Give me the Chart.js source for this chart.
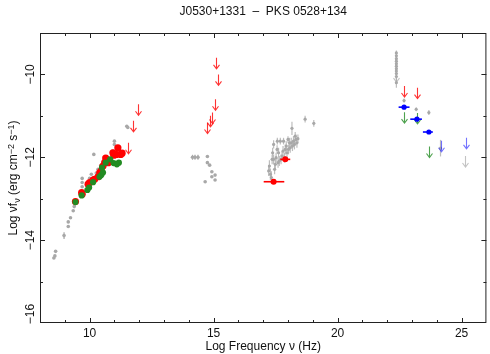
<!DOCTYPE html>
<html>
<head>
<meta charset="utf-8">
<script src="https://cdn.jsdelivr.net/npm/chart.js@4.4.0/dist/chart.umd.min.js"></script>
<style>
  html, body { margin: 0; padding: 0; background: #fff; }
  #wrap { width: 490px; height: 354px; }
</style>
</head>
<body>
<div id="wrap"><canvas id="sed"></canvas></div>
<script>
// tick labels
const xTicks = [10, 15, 20, 25];
const yTicks = [-16, -14, -12, -10];

// radio: red detections and green detections
const redX = [9.43, 9.68, 9.70, 9.94, 10.00, 10.14, 10.20, 10.34, 10.41, 10.47, 10.54, 10.61, 10.65, 10.75, 10.94, 10.98, 11.07, 11.14, 11.31, 11.25];
const redY = [-13.07, -12.85, -12.89, -12.65, -12.61, -12.55, -12.53, -12.47, -12.37, -12.33, -12.21, -12.13, -12.02, -12.13, -11.89, -11.95, -11.93, -11.77, -11.90, -11.93];
const greenX = [9.43, 9.68, 9.91, 9.98, 10.14, 10.40, 10.47, 10.54, 10.50, 10.65, 10.83, 10.97, 11.18, 11.10];
const greenY = [-13.08, -12.92, -12.79, -12.73, -12.60, -12.47, -12.43, -12.37, -12.25, -12.13, -12.05, -12.14, -12.13, -12.17];

// archival grey points, radio
const greyRadioX = [8.56, 8.60, 8.63, 8.97, 9.14, 9.14, 9.23, 9.34, 9.38, 9.70, 9.70, 9.70, 10.00, 10.07, 10.17, 10.34, 10.27, 10.45, 10.55, 10.60, 10.94, 11.00, 11.00, 11.24, 11.54, 11.50];
const greyRadioY = [-14.43, -14.38, -14.27, -13.89, -13.67, -13.56, -13.46, -13.29, -13.19, -12.51, -12.61, -12.71, -12.51, -12.41, -11.93, -12.29, -12.38, -12.20, -12.10, -12.05, -11.85, -11.61, -11.69, -11.87, -11.28, -11.25];
const greyRadioErr = [0, 0, 0, 0.08, 0, 0, 0, 0, 0, 0, 0, 0, 0, 0, 0, 0, 0, 0, 0, 0, 0, 0, 0, 0, 0, 0];

// grey points, optical / UV
const greyOptX = [14.15, 14.25, 14.37, 14.75, 14.75, 14.84, 14.93, 15.06, 14.93, 15.06, 14.66];
const greyOptY = [-12.0, -12.0, -12.0, -11.98, -12.13, -12.19, -12.35, -12.43, -12.47, -12.55, -12.59];
const greyOptErr = [0.06, 0.06, 0.06, 0, 0, 0, 0, 0, 0, 0, 0];

// grey points, X-ray
const greyXrayX = [17.22, 17.25, 17.29, 17.33, 17.36, 17.38, 17.42, 17.42, 17.46, 17.49, 17.52, 17.56, 17.57, 17.60, 17.62, 17.65, 17.69, 17.72, 17.76, 17.80, 17.82, 17.86, 17.89, 17.93, 17.96, 18.00, 18.02, 18.06, 18.09, 18.13, 18.16, 18.18, 18.22, 18.26, 18.29, 18.32, 18.36, 18.40, 18.69, 19.04];
const greyXrayY = [-12.33, -12.21, -12.41, -12.49, -12.05, -11.89, -11.69, -12.05, -12.29, -12.17, -12.01, -11.81, -11.61, -12.13, -11.89, -12.09, -11.61, -12.05, -11.97, -11.85, -11.61, -12.01, -11.81, -11.73, -11.89, -11.57, -11.81, -11.65, -11.77, -11.65, -11.30, -11.73, -11.61, -11.69, -11.49, -11.57, -11.65, -11.55, -11.08, -11.18];
const greyXrayErr = [0.12, 0.14, 0.14, 0.15, 0.12, 0.12, 0.1, 0.12, 0.12, 0.12, 0.12, 0.1, 0.08, 0.12, 0.12, 0.12, 0.08, 0.12, 0.12, 0.12, 0.08, 0.12, 0.12, 0.12, 0.12, 0.08, 0.12, 0.12, 0.12, 0.12, 0.16, 0.12, 0.12, 0.12, 0.1, 0.12, 0.12, 0.1, 0.08, 0.08];

// X-ray red detections with energy band
const redXrayX = [17.42, 17.89];
const redXrayY = [-12.59, -12.05];
const redXrayLo = [17.02, 17.69];
const redXrayHi = [17.85, 18.09];

// grey points, gamma-ray
const greyGamX = [22.37, 22.37, 22.37, 22.37, 22.37, 22.37, 22.37, 22.37, 22.37, 22.37, 22.37, 22.68, 23.17, 23.68, 24.15];
const greyGamY = [-9.48, -9.55, -9.62, -9.68, -9.74, -9.80, -9.86, -9.92, -9.98, -10.05, -10.20, -10.63, -10.84, -10.92, -11.78];
const greyGamErr = [0.06, 0.06, 0.06, 0.06, 0.06, 0.06, 0.06, 0.06, 0.06, 0.06, 0.12, 0.05, 0.05, 0.06, 0.2];

// gamma-ray blue detections with energy band
const blueX = [22.68, 23.20, 23.68];
const blueY = [-10.79, -11.08, -11.39];
const blueLo = [22.46, 22.93, 23.44];
const blueHi = [22.90, 23.40, 23.84];

// upper limits
const redUlX = [11.94, 11.74, 11.54, 15.11, 15.16, 15.06, 14.92, 14.86, 14.75, 22.68, 23.20];
const redUlY = [-10.72, -11.12, -11.65, -9.60, -10.00, -10.60, -10.92, -11.00, -11.16, -10.28, -10.32];
const greenUlX = [22.68, 23.20, 23.68];
const greenUlY = [-10.91, -10.93, -11.74];
const blueUlX = [24.17, 25.19];
const blueUlY = [-11.60, -11.53];
const greyUlX = [22.37, 25.15];
const greyUlY = [-9.92, -11.97];

const pts = (xs, ys) => xs.map((x, i) => ({ x: x, y: ys[i] }));
const FONT = "'Liberation Sans', Arial, Helvetica, sans-serif";

// error bars under the markers, arrows for the upper limits
const marks = {
  id: "marks",
  beforeDatasetDraw(chart, args) {
    const ds = chart.data.datasets[args.index];
    const xs = chart.scales.x, ys = chart.scales.y;
    const ctx = chart.ctx;
    ctx.save();
    ctx.strokeStyle = ds.barColor || ds.backgroundColor;
    ctx.lineWidth = 1.2;
    ds.data.forEach((p, i) => {
      const px = xs.getPixelForValue(p.x);
      if (ds.yErr && ds.yErr[i]) {
        ctx.beginPath();
        ctx.moveTo(px, ys.getPixelForValue(p.y - ds.yErr[i]));
        ctx.lineTo(px, ys.getPixelForValue(p.y + ds.yErr[i]));
        ctx.stroke();
      }
      if (ds.xLo) {
        const py = ys.getPixelForValue(p.y);
        ctx.lineWidth = 1.6;
        ctx.beginPath();
        ctx.moveTo(xs.getPixelForValue(ds.xLo[i]), py);
        ctx.lineTo(xs.getPixelForValue(ds.xHi[i]), py);
        ctx.stroke();
      }
    });
    ctx.restore();
  },
  afterDatasetDraw(chart, args) {
    const ds = chart.data.datasets[args.index];
    if (!ds.arrow) return;
    const ctx = chart.ctx;
    ctx.save();
    ctx.strokeStyle = ds.arrow;
    ctx.lineWidth = 1.1;
    args.meta.data.forEach(el => {
      const x = Math.round(el.x) + 0.5, y = el.y, L = 11;
      ctx.beginPath();
      ctx.moveTo(x, y);
      ctx.lineTo(x, y + L);
      ctx.moveTo(x - 3, y + L - 4);
      ctx.lineTo(x, y + L);
      ctx.lineTo(x + 3, y + L - 4);
      ctx.stroke();
    });
    ctx.restore();
  }
};

// frame, inward ticks, rotated y labels and titles
const frame = {
  id: "frame",
  afterDraw(chart) {
    const { ctx, chartArea: a } = chart;
    const xs = chart.scales.x, ys = chart.scales.y;
    ctx.save();
    ctx.strokeStyle = "#222";
    ctx.lineWidth = 1;
    ctx.strokeRect(a.left + 0.5, a.top + 0.5, a.right - a.left - 1, a.bottom - a.top - 1);
    ctx.beginPath();
    for (let v = 9; v <= 25; v++) {
      const px = Math.round(xs.getPixelForValue(v)) + 0.5;
      const len = v % 5 === 0 ? 5 : 3;
      ctx.moveTo(px, a.bottom); ctx.lineTo(px, a.bottom - len);
      ctx.moveTo(px, a.top); ctx.lineTo(px, a.top + len);
    }
    for (let v = -15; v <= -10; v++) {
      const py = Math.round(ys.getPixelForValue(v)) + 0.5;
      const len = v % 2 === 0 ? 5 : 3;
      ctx.moveTo(a.left, py); ctx.lineTo(a.left + len, py);
      ctx.moveTo(a.right, py); ctx.lineTo(a.right - len, py);
    }
    ctx.stroke();

    ctx.fillStyle = "#111";
    ctx.font = "12px " + FONT;
    ctx.textAlign = "center";
    ctx.textBaseline = "middle";
    yTicks.forEach(v => {
      const py = ys.getPixelForValue(v);
      ctx.save();
      ctx.translate(31, Math.min(py, a.bottom - 9));
      ctx.rotate(-Math.PI / 2);
      ctx.fillText("\u2212" + Math.abs(v), 0, 0);
      ctx.restore();
    });

    const cx = (a.left + a.right) / 2;
    ctx.fillText("J0530+1331  \u2013  PKS 0528+134", cx, 12);
    ctx.fillText("Log Frequency \u03bd (Hz)", cx, 347);

    // y title with sub- and superscripts
    const parts = [["Log \u03bdf", 0], ["\u03bd", 1], [" (erg cm", 0], ["\u22122", -1], [" s", 0], ["\u22121", -1], [")", 0]];
    const fontFor = k => (k === 0 ? "12px " : "9px ") + FONT;
    let w = 0;
    parts.forEach(p => { ctx.font = fontFor(p[1]); w += ctx.measureText(p[0]).width; });
    ctx.save();
    ctx.translate(13, (a.top + a.bottom) / 2);
    ctx.rotate(-Math.PI / 2);
    ctx.textAlign = "left";
    ctx.textBaseline = "alphabetic";
    let x0 = -w / 2;
    parts.forEach(p => {
      ctx.font = fontFor(p[1]);
      ctx.fillText(p[0], x0, 4 + p[1] * 3);
      x0 += ctx.measureText(p[0]).width;
    });
    ctx.restore();
    ctx.restore();
  }
};

const GREY = "#a8a8a8";

new Chart(document.getElementById("sed"), {
  type: "scatter",
  data: {
    datasets: [
      { data: pts(greyRadioX, greyRadioY), yErr: greyRadioErr, backgroundColor: GREY, pointRadius: 1.8, order: 9 },
      { data: pts(greyOptX, greyOptY), yErr: greyOptErr, backgroundColor: GREY, pointRadius: 1.8, order: 9 },
      { data: pts(greyXrayX, greyXrayY), yErr: greyXrayErr, backgroundColor: GREY, barColor: "#bdbdbd", pointRadius: 1.6, order: 9 },
      { data: pts(greyGamX, greyGamY), yErr: greyGamErr, backgroundColor: GREY, barColor: "#bdbdbd", pointRadius: 1.6, order: 9 },
      { data: pts(greyUlX, greyUlY), arrow: "rgba(170,170,170,0.7)", pointRadius: 0, order: 8 },
      { data: pts(redX, redY), backgroundColor: "#ff0000", pointRadius: 3.6, order: 6 },
      { data: pts(greenX, greenY), backgroundColor: "#228b22", pointRadius: 3.1, order: 5 },
      { data: pts(redXrayX, redXrayY), xLo: redXrayLo, xHi: redXrayHi, backgroundColor: "#ff0000", pointRadius: 3, order: 6 },
      { data: pts(redUlX, redUlY), arrow: "rgba(255,0,0,0.8)", pointRadius: 0, order: 7 },
      { data: pts(greenUlX, greenUlY), arrow: "rgba(34,139,34,0.8)", pointRadius: 0, order: 7 },
      { data: pts(blueUlX, blueUlY), arrow: "rgba(0,0,255,0.55)", pointRadius: 0, order: 7 },
      { data: pts(blueX, blueY), xLo: blueLo, xHi: blueHi, backgroundColor: "#0000ff", pointRadius: 2.6, order: 4 }
    ].map(d => Object.assign({ borderWidth: 0, pointHoverRadius: 0 }, d))
  },
  options: {
    responsive: true,
    maintainAspectRatio: false,
    animation: false,
    devicePixelRatio: 1,
    layout: { padding: { top: 33, right: 1, left: 0, bottom: 0 } },
    plugins: { legend: { display: false }, tooltip: { enabled: false }, title: { display: false } },
    scales: {
      x: {
        type: "linear", min: 8, max: 26,
        grid: { display: false, drawTicks: false },
        border: { display: false },
        afterBuildTicks: s => { s.ticks = xTicks.map(v => ({ value: v })); },
        afterFit: s => { s.height = 31; },
        ticks: { color: "#111", font: { family: FONT, size: 12 }, padding: 3, maxRotation: 0 }
      },
      y: {
        type: "linear", min: -16, max: -9,
        grid: { display: false, drawTicks: false },
        border: { display: false },
        afterBuildTicks: s => { s.ticks = yTicks.map(v => ({ value: v })); },
        afterFit: s => { s.width = 40; },
        ticks: { display: false }
      }
    }
  },
  plugins: [marks, frame]
});
</script>
</body>
</html>
